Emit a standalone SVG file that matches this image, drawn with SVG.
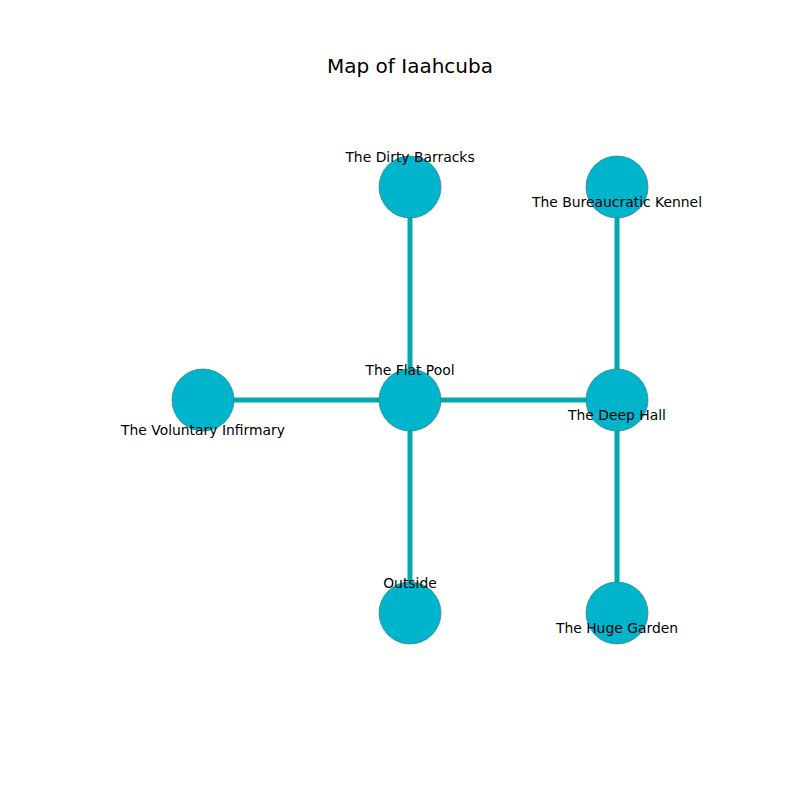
<svg xmlns="http://www.w3.org/2000/svg" width="800" height="800" viewBox="0 0 800 800">
<style>
.edge{stroke:#00aaaa;stroke-width:5;fill:none}
.node{fill:#00b4cc;stroke:#2f7f8a;stroke-width:0.7}
.lbl{font-family:"DejaVu Sans",sans-serif;font-size:13.9px;fill:#000;text-anchor:middle}
.title{font-family:"DejaVu Sans",sans-serif;font-size:20px;fill:#000;text-anchor:middle}
</style>
<rect width="800" height="800" fill="#fff"/>
<text class="title" x="410" y="73">Map of Iaahcuba</text>
<g id="connectors">
<line class="edge" x1="410" y1="187" x2="410" y2="400"/>
<line class="edge" x1="203" y1="400" x2="617" y2="400"/>
<line class="edge" x1="410" y1="400" x2="410" y2="613"/>
<line class="edge" x1="617" y1="187" x2="617" y2="613"/>
</g>
<g id="dirty-barracks"><circle class="node" cx="410" cy="187" r="31"/><text class="lbl" x="410" y="161.5">The Dirty Barracks</text></g>
<g id="bureaucratic-kennel"><circle class="node" cx="617" cy="187" r="31"/><text class="lbl" x="617" y="206.5">The Bureaucratic Kennel</text></g>
<g id="flat-pool"><circle class="node" cx="410" cy="400" r="31"/><text class="lbl" x="410" y="374.5">The Flat Pool</text></g>
<g id="voluntary-infirmary"><circle class="node" cx="203" cy="400" r="31"/><text class="lbl" x="203" y="434.5">The Voluntary Infirmary</text></g>
<g id="deep-hall"><circle class="node" cx="617" cy="400" r="31"/><text class="lbl" x="617" y="419.5">The Deep Hall</text></g>
<g id="outside"><circle class="node" cx="410" cy="613" r="31"/><text class="lbl" x="410" y="587.5">Outside</text></g>
<g id="huge-garden"><circle class="node" cx="617" cy="613" r="31"/><text class="lbl" x="617" y="632.5">The Huge Garden</text></g>
</svg>
